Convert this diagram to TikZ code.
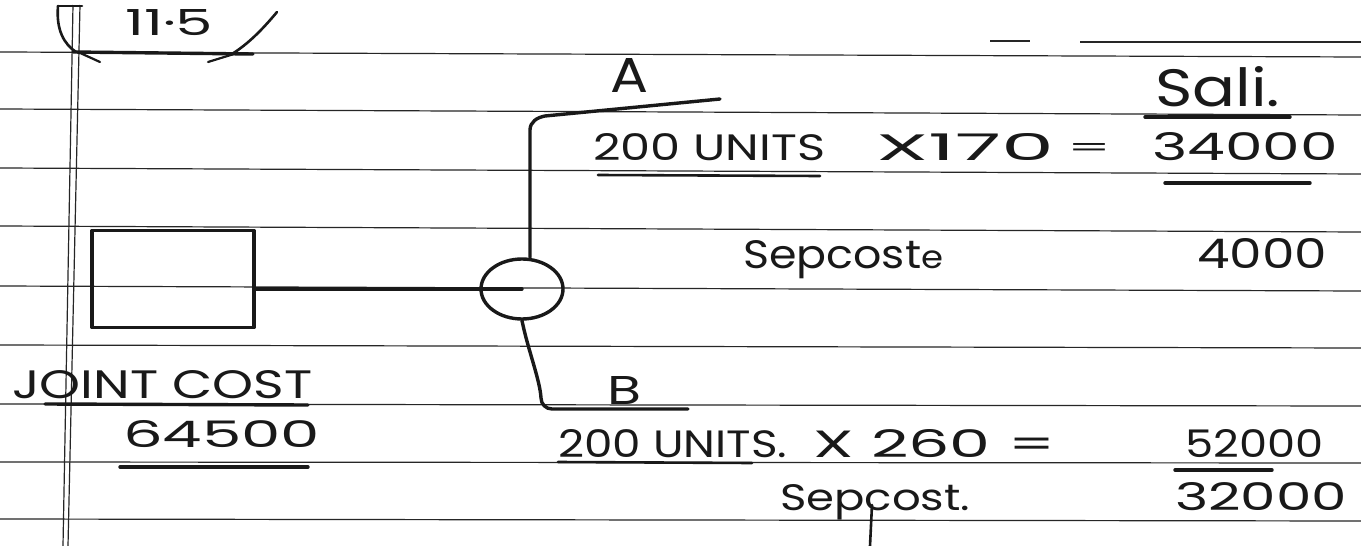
\documentclass[tikz,border=0pt]{standalone}
\usepackage{fontspec}
\setmainfont{Poppins}
\usetikzlibrary{shapes.geometric}
\newcommand{\fitt}[3]{\resizebox{#1pt}{#2pt}{#3}}
\begin{document}
\begin{tikzpicture}[x=1pt,y=-1pt,
  rule/.style={line width=1.2pt, black!85},
  pen/.style={line width=3.4pt, line cap=round, line join=round, black!90},
  txt/.style={anchor=base west, inner sep=0pt, text=black!90}]
\useasboundingbox (0,0) rectangle (1361,546);
\fill[white] (0,0) rectangle (1361,546);
% ruled lines
\draw[rule] (0,52) -- (1361,57);
\draw[rule] (0,109) -- (1361,115);
\draw[rule] (0,168) -- (1361,174);
\draw[rule] (0,226) -- (1361,232);
\draw[rule] (0,286) -- (1361,291);
\draw[rule] (0,345) -- (1361,348);
\draw[rule] (0,404) -- (1361,406);
\draw[rule] (0,462) -- (1361,463);
\draw[rule] (0,519) -- (1361,521);
\draw[rule] (1080,42) -- (1361,42);
\draw[rule] (990,41) -- (1030,41);
% margin double line
\draw[rule] (73,5) -- (63,546);
\draw[rule] (80,5) -- (68,546);
% top bracket
\draw[pen, line width=2.6pt] (58,6) -- (82,6);
\draw[pen, line width=2.6pt] (58,6) .. controls (56,30) and (64,44) .. (76,52);
\draw[pen, line width=2.6pt] (277,12) .. controls (262,30) and (248,44) .. (232,54);
\draw[pen] (73,52) -- (253,54);
\draw[pen, line width=2.2pt] (78,52) -- (100,62);
\draw[pen, line width=2.2pt] (208,62) -- (234,54);
\node[txt] (sec) at (125,35) {\fitt{88}{26}{11·5}};
% box and split point
\node[pen, draw, rectangle, minimum width=162pt, minimum height=97pt, inner sep=0pt] (joint) at (173,279) {};
\node[pen, draw, ellipse, minimum width=82pt, minimum height=60pt, inner sep=0pt] (split) at (522,289) {};
\draw[pen] (joint.east |- split.center) -- (split.center);
% branch A
\coordinate (aend) at (720,99);
\draw[pen] (split.north -| 530,0) -- (530,130) to[out=90,in=190] (545,116) -- (aend);
\node[txt] (labA) at (610,92) {\fitt{38}{34}{A}};
% branch B
\coordinate (bend) at (688,409);
\draw[pen] (split.south) .. controls (528,350) and (540,380) .. (541,398) to[out=-90,in=180] (552,409) -- (bend);
\node[txt] (labB) at (607,404) {\fitt{34}{28}{B}};
% A row
\node[txt] (sal) at (1155,106) {\fitt{125}{40}{Sali.}};
\draw[pen] (1145,117) -- (1290,117);
\node[txt] (aunits) at (593,160) {\fitt{232}{27}{200 UNITS}};
\draw[pen, line width=2.6pt] (598,175) -- (820,176);
\node[txt] (ax) at (876,160) {\fitt{178}{27}{X170}};
\node[txt] (aeq) at (1067,156) {\fitt{44}{13}{=}};
\node[txt] (asales) at (1152,160) {\fitt{186}{28}{34000}};
\draw[pen] (1165,183) -- (1310,183);
\node[txt] (asep) at (743,268) {\fitt{200}{28}{Sepcost{\footnotesize e}}};
\node[txt] (asepv) at (1197,268) {\fitt{130}{30}{4000}};
% joint cost
\node[txt] (jlabel) at (12,398) {\fitt{300}{28}{JOINT COST}};
\draw[pen] (45,404) -- (308,405);
\node[txt] (jval) at (123,447) {\fitt{197}{27}{64500}};
\draw[pen] (120,467) -- (308,467);
% B row
\node[txt] (bunits) at (558,457) {\fitt{229}{28}{200 UNITS.}};
\draw[pen, line width=2.6pt] (558,462) -- (752,463);
\node[txt] (bx) at (813,457) {\fitt{242}{28}{X 260 =}};
\node[txt] (bsales) at (1185,457) {\fitt{138}{28}{52000}};
\draw[pen] (1175,470) -- (1272,470);
\node[txt] (bsep) at (780,510) {\fitt{190}{26}{Sepcost.}};
\draw[pen, line width=2.6pt] (872,505) -- (870,546);
\node[txt] (bsepv) at (1175,510) {\fitt{172}{28}{32000}};
\end{tikzpicture}
\end{document}
